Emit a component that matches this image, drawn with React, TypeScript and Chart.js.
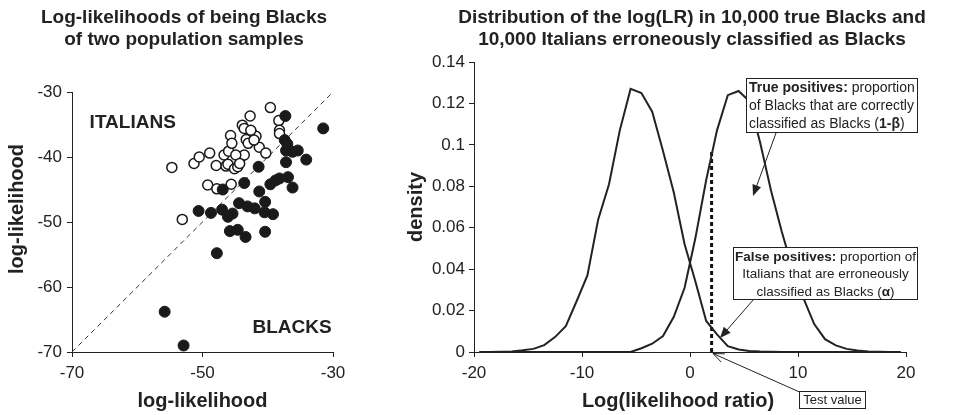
import { useEffect, useRef } from "react";
import { Chart, registerables } from "chart.js";

Chart.register(...registerables);

const FONT = "'Liberation Sans', Arial, Helvetica, sans-serif";
const INK = "#222";

// ---------- Left panel: log-likelihoods of being Blacks ----------
const italiansLL: [number, number][] = [
  [-54.7, -41.6], [-53.1, -49.6], [-51.3, -41.0], [-50.5, -40.0], [-48.9, -39.4],
  [-49.2, -44.3], [-47.8, -44.9], [-47.9, -41.3], [-46.7, -39.7], [-46.4, -41.4],
  [-46.0, -39.1], [-45.7, -36.7], [-45.5, -37.9], [-46.1, -41.1], [-45.6, -44.2],
  [-45.1, -41.8], [-44.6, -41.5], [-44.1, -40.0], [-43.6, -39.7], [-43.9, -35.1],
  [-43.6, -35.6], [-42.7, -33.7], [-42.4, -36.4], [-43.3, -37.3], [-43.0, -37.9],
  [-41.8, -36.8], [-41.3, -38.5], [-40.3, -39.4], [-39.6, -32.4], [-38.3, -34.4],
  [-38.2, -35.9], [-38.2, -36.4], [-44.9, -39.7], [-44.3, -41.0], [-42.6, -35.9],
  [-42.1, -37.4],
];
const blacksLL: [number, number][] = [
  [-55.8, -63.8], [-52.9, -69.0], [-47.8, -54.8], [-50.6, -48.3], [-48.7, -48.6],
  [-46.9, -45.0], [-47.0, -48.1], [-46.1, -49.2], [-45.4, -48.7], [-45.8, -51.4],
  [-44.6, -51.2], [-44.4, -47.1], [-43.4, -52.3], [-43.6, -44.0], [-43.1, -47.6],
  [-42.0, -47.9], [-41.4, -41.5], [-41.3, -45.3], [-40.4, -46.9], [-40.5, -48.5],
  [-40.4, -51.5], [-39.2, -48.8], [-39.6, -44.2], [-38.8, -43.6], [-38.2, -43.3],
  [-36.9, -43.1], [-36.2, -44.7], [-37.3, -33.7], [-37.4, -37.4], [-37.2, -39.0],
  [-37.2, -40.8], [-35.4, -39.0], [-34.1, -40.4], [-31.5, -35.6], [-36.2, -39.2],
  [-37.0, -38.0],
];
const diagonalEnds = [-70, -30];
const leftTitle = ["Log-likelihoods of being Blacks", "of two population samples"];
const leftAxisTitle = "log-likelihood";
const groupLabels = { italians: "ITALIANS", blacks: "BLACKS" };

// ---------- Right panel: distribution of log(LR) ----------
const logLR = [
  -19.5, -18.5, -17.5, -16.5, -15.5, -14.5, -13.5, -12.5, -11.5, -10.5,
  -9.5, -8.5, -7.5, -6.5, -5.5, -4.5, -3.5, -2.5, -1.5, -0.5,
  0.5, 1.5, 2.5, 3.5, 4.5, 5.5, 6.5, 7.5, 8.5, 9.5,
  10.5, 11.5, 12.5, 13.5, 14.5, 15.5, 16.5, 17.5, 18.5, 19.5,
];
const italiansDensity = [
  0, 0, 0.0001, 0.0003, 0.0008, 0.0015, 0.0033, 0.0072, 0.0125, 0.0245,
  0.037, 0.064, 0.081, 0.107, 0.127, 0.125, 0.116, 0.097, 0.077, 0.052,
  0.034, 0.015, 0.0085, 0.0028, 0.0012, 0.0005, 0.0002, 0.0001, 0, 0,
  0, 0, 0, 0, 0, 0, 0, 0, 0, 0,
];
const blacksDensity = [
  0, 0, 0, 0, 0, 0, 0, 0, 0, 0,
  0, 0, 0, 0, 0, 0.0018, 0.004, 0.0077, 0.017, 0.031,
  0.055, 0.083, 0.107, 0.124, 0.126, 0.121, 0.101, 0.078, 0.058, 0.04,
  0.026, 0.0135, 0.0062, 0.0032, 0.0015, 0.0007, 0.0003, 0.0001, 0, 0,
];
const testValue = 2;
const testLineTop = 0.098;
const rightTitle = [
  "Distribution of the log(LR) in 10,000 true Blacks and",
  "10,000 Italians erroneously classified as Blacks",
];
const rightXTitle = "Log(likelihood ratio)";
const rightYTitle = "density";

type Run = { t: string; b?: boolean };

function drawRuns(
  ctx: CanvasRenderingContext2D,
  runs: Run[],
  x: number,
  y: number,
  align: "left" | "center",
  size: number
) {
  const widths = runs.map((r) => {
    ctx.font = `${r.b ? "bold " : ""}${size}px ${FONT}`;
    return ctx.measureText(r.t).width;
  });
  const total = widths.reduce((a, b) => a + b, 0);
  let sx = align === "center" ? x - total / 2 : x;
  ctx.textAlign = "left";
  ctx.textBaseline = "alphabetic";
  runs.forEach((r, i) => {
    ctx.font = `${r.b ? "bold " : ""}${size}px ${FONT}`;
    ctx.fillText(r.t, sx, y);
    sx += widths[i];
  });
}

function drawArrow(
  ctx: CanvasRenderingContext2D,
  x1: number,
  y1: number,
  x2: number,
  y2: number,
  filled: boolean
) {
  const ang = Math.atan2(y2 - y1, x2 - x1);
  const len = 11;
  const hw = 4.5;
  ctx.beginPath();
  ctx.moveTo(x1, y1);
  ctx.lineTo(filled ? x2 - Math.cos(ang) * len * 0.8 : x2, filled ? y2 - Math.sin(ang) * len * 0.8 : y2);
  ctx.stroke();
  const bx = x2 - Math.cos(ang) * len;
  const by = y2 - Math.sin(ang) * len;
  const px = -Math.sin(ang) * hw;
  const py = Math.cos(ang) * hw;
  ctx.beginPath();
  if (filled) {
    ctx.moveTo(x2, y2);
    ctx.lineTo(bx + px, by + py);
    ctx.lineTo(bx - px, by - py);
    ctx.closePath();
    ctx.fill();
  } else {
    ctx.moveTo(bx + px, by + py);
    ctx.lineTo(x2, y2);
    ctx.lineTo(bx - px, by - py);
    ctx.stroke();
  }
}

const tickFont = { family: FONT, size: 17 };

const leftDecor = {
  id: "leftDecor",
  afterDraw(chart: any) {
    const ctx: CanvasRenderingContext2D = chart.ctx;
    const xs = chart.scales.x;
    const ys = chart.scales.y;
    ctx.save();
    ctx.fillStyle = INK;
    ctx.font = `bold 19px ${FONT}`;
    ctx.textAlign = "center";
    ctx.textBaseline = "alphabetic";
    ctx.fillText(leftTitle[0], 184, 23);
    ctx.fillText(leftTitle[1], 184, 45);
    ctx.font = `bold 20px ${FONT}`;
    ctx.fillText(leftAxisTitle, (xs.left + xs.right) / 2, 407);
    ctx.save();
    ctx.translate(23, 209);
    ctx.rotate(-Math.PI / 2);
    ctx.fillText(leftAxisTitle, 0, 0);
    ctx.restore();
    ctx.font = `bold 19px ${FONT}`;
    ctx.textBaseline = "middle";
    ctx.textAlign = "left";
    ctx.fillText(groupLabels.italians, xs.getPixelForValue(-67.3), ys.getPixelForValue(-34.8));
    ctx.textAlign = "right";
    ctx.fillText(groupLabels.blacks, xs.getPixelForValue(-30.2), ys.getPixelForValue(-66.2));
    ctx.restore();
  },
};

const rightDecor = {
  id: "rightDecor",
  afterDraw(chart: any) {
    const ctx: CanvasRenderingContext2D = chart.ctx;
    const xs = chart.scales.x;
    ctx.save();
    ctx.fillStyle = INK;
    ctx.strokeStyle = INK;
    ctx.font = `bold 19px ${FONT}`;
    ctx.textAlign = "center";
    ctx.textBaseline = "alphabetic";
    ctx.fillText(rightTitle[0], 312, 23);
    ctx.fillText(rightTitle[1], 312, 45);
    ctx.font = `bold 20px ${FONT}`;
    ctx.fillText(rightXTitle, (xs.left + xs.right) / 2 - 12, 407);
    ctx.save();
    ctx.translate(42, 207);
    ctx.rotate(-Math.PI / 2);
    ctx.fillText(rightYTitle, 0, 0);
    ctx.restore();

    // annotation boxes
    ctx.lineWidth = 1;
    ctx.fillStyle = "#fff";
    const boxes = [
      [366.5, 78.5, 171, 54],
      [353.5, 247.5, 184, 52],
      [419.5, 391.5, 66, 17],
    ];
    boxes.forEach(([x, y, w, h]) => {
      ctx.fillRect(x, y, w, h);
      ctx.strokeRect(x, y, w, h);
    });
    ctx.fillStyle = INK;
    drawRuns(ctx, [{ t: "True positives:", b: true }, { t: " proportion" }], 369, 92, "left", 14);
    drawRuns(ctx, [{ t: "of Blacks that are correctly" }], 369, 110, "left", 14);
    drawRuns(ctx, [{ t: "classified as Blacks (" }, { t: "1-\u03b2", b: true }, { t: ")" }], 369, 128, "left", 14);

    drawRuns(ctx, [{ t: "False positives:", b: true }, { t: " proportion of" }], 445.5, 261, "center", 13.5);
    drawRuns(ctx, [{ t: "Italians that are erroneously" }], 445.5, 278, "center", 13.5);
    drawRuns(ctx, [{ t: "classified as Blacks (" }, { t: "\u03b1", b: true }, { t: ")" }], 445.5, 296, "center", 13.5);

    drawRuns(ctx, [{ t: "Test value" }], 452.5, 404, "center", 13);

    ctx.lineWidth = 1;
    drawArrow(ctx, 396, 133, 373, 196, true);
    drawArrow(ctx, 374, 299, 340, 338, true);
    drawArrow(ctx, 419.5, 392, 333, 353.5, false);
    ctx.restore();
  },
};

export default function App() {
  const leftRef = useRef<HTMLCanvasElement>(null);
  const rightRef = useRef<HTMLCanvasElement>(null);

  useEffect(() => {
    const left = new Chart(leftRef.current as HTMLCanvasElement, {
      type: "scatter",
      data: {
        datasets: [
          {
            label: "Blacks",
            data: blacksLL.map(([x, y]) => ({ x, y })),
            pointRadius: 5.5,
            pointBackgroundColor: "#1a1a1a",
            pointBorderColor: "#1a1a1a",
            pointBorderWidth: 1,
          },
          {
            label: "Italians",
            data: italiansLL.map(([x, y]) => ({ x, y })),
            pointRadius: 5,
            pointBackgroundColor: "#fff",
            pointBorderColor: "#1a1a1a",
            pointBorderWidth: 1.5,
          },
          {
            type: "line",
            label: "equal",
            data: diagonalEnds.map((v) => ({ x: v, y: v })),
            borderColor: "#333",
            borderWidth: 1,
            borderDash: [5, 4],
            pointRadius: 0,
            fill: false,
          } as any,
        ],
      },
      options: {
        animation: false,
        responsive: false,
        events: [],
        layout: { padding: { top: 92, right: 47, left: 0, bottom: 0 } },
        plugins: { legend: { display: false }, tooltip: { enabled: false } },
        scales: {
          x: {
            type: "linear",
            min: -70,
            max: -30,
            ticks: { stepSize: 20, font: tickFont, color: INK, padding: 6 },
            grid: { drawOnChartArea: false, tickLength: 5, color: INK },
            border: { color: INK, width: 1 },
            afterFit: (s: any) => {
              s.height = 63;
            },
          },
          y: {
            type: "linear",
            min: -70,
            max: -30,
            ticks: { stepSize: 10, font: tickFont, color: INK, padding: 5 },
            grid: { drawOnChartArea: false, tickLength: 5, color: INK },
            border: { color: INK, width: 1 },
            afterFit: (s: any) => {
              s.width = 72;
            },
          },
        },
      } as any,
      plugins: [leftDecor],
    });

    const right = new Chart(rightRef.current as HTMLCanvasElement, {
      type: "line",
      data: {
        datasets: [
          {
            label: "Italians",
            data: logLR.map((x, i) => ({ x, y: italiansDensity[i] })),
            borderColor: INK,
            borderWidth: 2,
            pointRadius: 0,
            tension: 0,
            fill: false,
          },
          {
            label: "Blacks",
            data: logLR.map((x, i) => ({ x, y: blacksDensity[i] })),
            borderColor: INK,
            borderWidth: 2,
            pointRadius: 0,
            tension: 0,
            fill: false,
          },
          {
            label: "Test value",
            data: [
              { x: testValue, y: 0 },
              { x: testValue, y: testLineTop },
            ],
            borderColor: "#111",
            borderWidth: 3,
            borderDash: [4, 3],
            borderCapStyle: "butt",
            pointRadius: 0,
            fill: false,
          },
        ],
      },
      options: {
        animation: false,
        responsive: false,
        events: [],
        layout: { padding: { top: 62, right: 49, left: 0, bottom: 0 } },
        plugins: { legend: { display: false }, tooltip: { enabled: false } },
        scales: {
          x: {
            type: "linear",
            min: -20,
            max: 20,
            ticks: { stepSize: 10, font: tickFont, color: INK, padding: 6 },
            grid: { drawOnChartArea: false, tickLength: 5, color: INK },
            border: { color: INK, width: 1 },
            afterFit: (s: any) => {
              s.height = 63;
            },
          },
          y: {
            type: "linear",
            min: 0,
            max: 0.14,
            ticks: {
              stepSize: 0.02,
              font: tickFont,
              color: INK,
              padding: 4,
              callback: (v: any) => String(+Number(v).toFixed(2)),
            },
            grid: { drawOnChartArea: false, tickLength: 5, color: INK },
            border: { color: INK, width: 1 },
            afterFit: (s: any) => {
              s.width = 94;
            },
          },
        },
      } as any,
      plugins: [rightDecor],
    });

    return () => {
      left.destroy();
      right.destroy();
    };
  }, []);

  return (
    <div
      style={{
        position: "absolute",
        left: 0,
        top: 0,
        width: 955,
        height: 415,
        background: "#fff",
        overflow: "hidden",
      }}
    >
      <canvas
        ref={leftRef}
        width={380}
        height={415}
        style={{ position: "absolute", left: 0, top: 0, width: 380, height: 415 }}
      />
      <canvas
        ref={rightRef}
        width={575}
        height={415}
        style={{ position: "absolute", left: 380, top: 0, width: 575, height: 415 }}
      />
    </div>
  );
}
